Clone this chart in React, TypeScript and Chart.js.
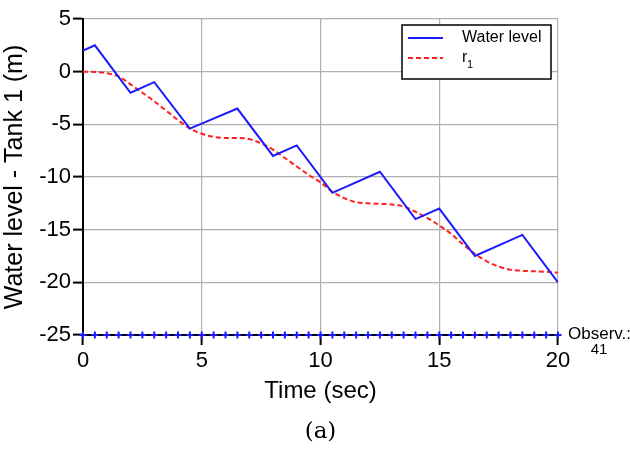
import React, { useEffect, useRef } from "react";
import { Chart, registerables } from "chart.js";

Chart.register(...registerables);

const waterT = [0, 0.5, 2, 3, 4.5, 6.5, 8, 9, 10.5, 12.5, 14, 15, 16.5, 18.5, 20];
const waterV = [2, 2.5, -2, -1, -5.4, -3.5, -8, -7, -11.5, -9.5, -14, -13, -17.5, -15.5, -20];

const refT = [0, 0.5, 1, 1.5, 2, 2.5, 3, 3.5, 4, 4.5, 5, 5.5, 6, 6.5, 7, 7.5, 8, 8.5, 9, 9.5, 10, 10.5, 11, 11.5, 12, 12.5, 13, 13.5, 14, 14.5, 15, 15.5, 16, 16.5, 17, 17.5, 18, 18.5, 19, 19.5, 20];
const refV = [0, -0.02, -0.15, -0.45, -1.2, -2.0, -2.8, -3.7, -4.6, -5.4, -5.9, -6.2, -6.3, -6.3, -6.4, -6.8, -7.4, -8.2, -9.0, -9.8, -10.5, -11.4, -12.0, -12.4, -12.5, -12.55, -12.6, -12.8, -13.3, -13.9, -14.6, -15.4, -16.4, -17.3, -18.0, -18.5, -18.8, -18.9, -18.95, -19.0, -19.1];

const obsLevel = -25;
const obsCount = 41;

const xTicks = [0, 5, 10, 15, 20];
const yTicks = [-25, -20, -15, -10, -5, 0, 5];

const FONT = "'Liberation Sans', Arial, Helvetica, sans-serif";

const overlay = {
  id: "overlay",
  afterDraw(chart: any) {
    const ctx = chart.ctx;
    const area = chart.chartArea;
    const ys = chart.scales.y;
    ctx.save();
    // legend box
    const bx = 402, by = 25, bw = 149, bh = 54;
    ctx.fillStyle = "#fff";
    ctx.fillRect(bx, by, bw, bh);
    ctx.strokeStyle = "#000";
    ctx.lineWidth = 1.5;
    ctx.strokeRect(bx, by, bw, bh);
    ctx.lineWidth = 2;
    ctx.strokeStyle = "#1a1aff";
    ctx.beginPath();
    ctx.moveTo(408, 38);
    ctx.lineTo(443, 38);
    ctx.stroke();
    ctx.strokeStyle = "#ff2020";
    ctx.setLineDash([5, 3]);
    ctx.beginPath();
    ctx.moveTo(408, 58);
    ctx.lineTo(443, 58);
    ctx.stroke();
    ctx.setLineDash([]);
    ctx.fillStyle = "#000";
    ctx.font = `16px ${FONT}`;
    ctx.textBaseline = "middle";
    ctx.textAlign = "left";
    ctx.fillText("Water level", 462, 38);
    ctx.fillText("r", 462, 58);
    ctx.font = `11px ${FONT}`;
    ctx.fillText("1", 467, 65);
    // observation text
    const yObs = ys.getPixelForValue(obsLevel);
    ctx.font = `17px ${FONT}`;
    ctx.fillText("Observ.:", area.right + 10, yObs - 1);
    ctx.font = `15px ${FONT}`;
    ctx.textAlign = "center";
    ctx.fillText(String(obsCount), area.right + 41, yObs + 15);
    // caption
    ctx.font = `23px 'DejaVu Serif', 'Liberation Serif', serif`;
    ctx.fillText("(a)", (area.left + area.right) / 2, 432);
    ctx.restore();
  },
};

export default function App() {
  const ref = useRef<HTMLCanvasElement | null>(null);
  useEffect(() => {
    if (!ref.current) return;
    const obsData = Array.from({ length: obsCount }, (_, i) => ({ x: refT[i], y: obsLevel }));
    const chart = new Chart(ref.current, {
      type: "scatter",
      data: {
        datasets: [
          {
            label: "Water level",
            data: waterT.map((t, i) => ({ x: t, y: waterV[i] })),
            showLine: true,
            borderColor: "#1a1aff",
            borderWidth: 2,
            pointRadius: 0,
            fill: false,
          },
          {
            label: "r1",
            data: refT.map((t, i) => ({ x: t, y: refV[i] })),
            showLine: true,
            borderColor: "#ff2020",
            borderWidth: 2,
            borderDash: [5, 3],
            cubicInterpolationMode: "monotone",
            pointRadius: 0,
            fill: false,
          },
          {
            label: "Observ",
            data: obsData,
            showLine: false,
            pointStyle: "cross",
            pointRadius: 3.5,
            borderColor: "#1a1aff",
            borderWidth: 2,
            clip: false as any,
          },
        ],
      },
      options: {
        animation: false,
        responsive: true,
        maintainAspectRatio: false,
        layout: { padding: { top: 19, right: 72, left: 3, bottom: 45 } },
        plugins: { legend: { display: false }, tooltip: { enabled: false } },
        scales: {
          x: {
            type: "linear",
            min: 0,
            max: 20,
            afterBuildTicks: (s: any) => { s.ticks = xTicks.map((v) => ({ value: v })); },
            afterFit: (s: any) => { s.height = 71; },
            ticks: { font: { size: 22, family: FONT }, color: "#000", padding: 3, maxRotation: 0 },
            grid: { color: "#b0b0b0", lineWidth: 1.2, tickColor: "#000", tickLength: 10, tickWidth: 2 },
            border: { color: "#000", width: 2 },
            title: { display: true, text: "Time (sec)", font: { size: 24, family: FONT }, color: "#000", padding: { top: 0, bottom: 0 } },
          },
          y: {
            type: "linear",
            min: -25,
            max: 5,
            afterBuildTicks: (s: any) => { s.ticks = yTicks.map((v) => ({ value: v })); },
            afterFit: (s: any) => { s.width = 80; },
            ticks: { font: { size: 22, family: FONT }, color: "#000", padding: 2 },
            grid: { color: "#b0b0b0", lineWidth: 1.2, tickColor: "#000", tickLength: 10, tickWidth: 2 },
            border: { color: "#000", width: 2 },
            title: { display: true, text: "Water level - Tank 1 (m)", font: { size: 25, family: FONT, lineHeight: 1.0 }, color: "#000", padding: { top: 0, bottom: 0 } },
          },
        },
      },
      plugins: [overlay],
    } as any);
    return () => chart.destroy();
  }, []);
  return (
    <div style={{ position: "fixed", left: 0, top: 0, width: 630, height: 451, background: "#fff" }}>
      <canvas ref={ref} />
    </div>
  );
}
